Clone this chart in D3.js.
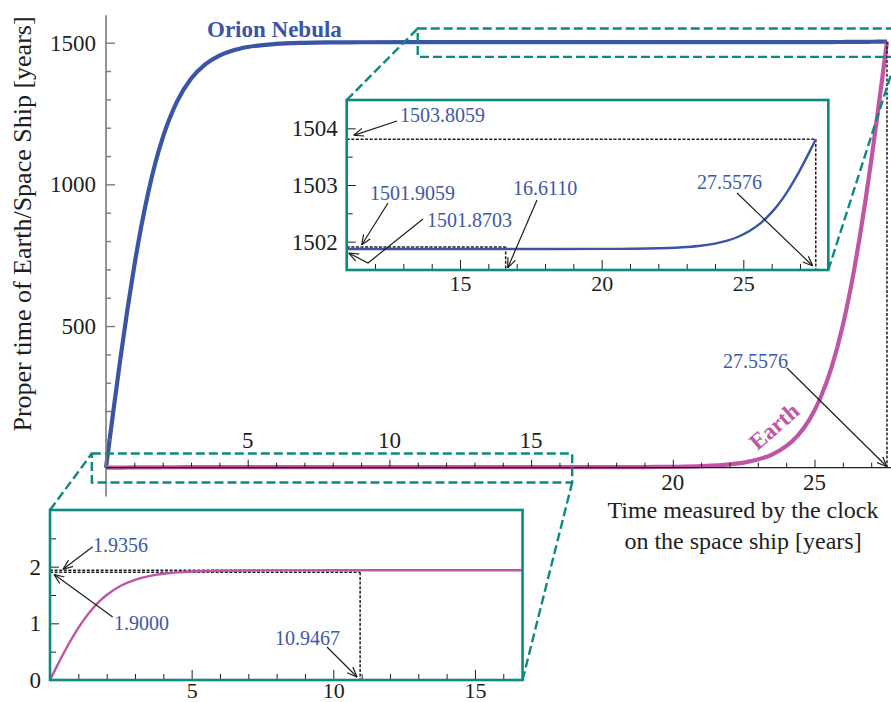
<!DOCTYPE html>
<html>
<head>
<meta charset="utf-8">
<script src="https://cdn.jsdelivr.net/npm/d3@7"></script>
<style>
  body { margin: 0; background: #fff; }
  svg { font-family: "Liberation Serif", "Times New Roman", serif; }
</style>
</head>
<body>
<div id="chart"></div>
<script>
// time on the ship clock [years] and the proper times
const earthTau = [0, 0.25, 0.5, 0.75, 1, 1.25, 1.5, 1.75, 2, 2.5, 3, 3.5, 4, 4.5, 5, 6, 7, 8, 9, 10.9467, 13, 16.611,
    18, 19, 20, 21, 22, 22.5, 23, 23.5, 24, 24.4, 24.8, 25.2, 25.6, 26, 26.2, 26.4, 26.6, 26.8, 27, 27.2, 27.4, 27.5576];
const earthYears = [0, 0.2486, 0.4891, 0.7144, 0.9192, 1.101, 1.2576, 1.3904, 1.5003, 1.664, 1.7688, 1.8342, 1.8744, 1.8988, 1.9136, 1.9277, 1.9328, 1.9346, 1.9352, 1.9356, 1.9357, 1.936,
    2.09, 2.37, 3.16, 5.36, 11.6, 18.0, 28.8, 46.4, 76.0, 112.6, 166.4, 244.2, 353.4, 502.9, 594.9, 699.2, 816.1, 944.2, 1082.7, 1229.4, 1381.8, 1503.8059];

const orionTau = [0, 0.25, 0.5, 0.75, 1, 1.25, 1.5, 1.75, 2, 2.5, 3, 3.5, 4, 4.5, 5, 6, 7, 8, 9, 10.9467, 13, 16.611,
    20, 21, 22, 23, 23.5, 24, 24.4, 24.8, 25.2, 25.6, 26, 26.2, 26.4, 26.6, 26.8, 27, 27.2, 27.4, 27.5576];
const orionYears = [0, 192.9, 379.5, 554.3, 713.2, 854.3, 975.8, 1078.8, 1164.1, 1291.1, 1372.4, 1423.2, 1454.4, 1473.3, 1484.8, 1495.8, 1499.7, 1501.1, 1501.6, 1501.8703, 1501.8703, 1501.8703,
    1501.872, 1501.875, 1501.883, 1501.905, 1501.928, 1501.966, 1502.013, 1502.082, 1502.183, 1502.323, 1502.516, 1502.634, 1502.769, 1502.92, 1503.085, 1503.263, 1503.452, 1503.649, 1503.8059];

// marked values
const accelEnd = 10.9467;
const coastEnd = 16.6110;
const arrival = 27.5576;
const earthCoast = 1.9356;
const earthMark = 1.9000;
const orionArrival = 1503.8059;
const orionMark = 1501.9059;
const orionCoast = 1501.8703;

// tick labels
const mainXTicks = [5, 10, 15, 20, 25];
const mainYTicks = [500, 1000, 1500];
const topXTicks = [15, 20, 25];
const topYTicks = [1502, 1503, 1504];
const lowXTicks = [5, 10, 15];
const lowYTicks = [0, 1, 2];

const blue = '#3a54a6';
const pink = '#c055a6';
const teal = '#0d8a80';
const noteBlue = '#3d58ab';
const ink = '#1e1e1e';

const earth = earthTau.map((t, i) => [t, earthYears[i]]);
const orion = orionTau.map((t, i) => [t, orionYears[i]]);

const svg = d3.select('#chart').append('svg')
    .attr('width', 891)
    .attr('height', 702);

const defs = svg.append('defs');
defs.append('marker')
    .attr('id', 'arrow')
    .attr('viewBox', '0 0 10 10')
    .attr('refX', 10)
    .attr('refY', 5)
    .attr('markerWidth', 10)
    .attr('markerHeight', 10)
    .attr('markerUnits', 'userSpaceOnUse')
    .attr('orient', 'auto')
    .append('path')
    .attr('d', 'M0,1 L10,5 L0,9')
    .attr('fill', 'none')
    .attr('stroke', ink)
    .attr('stroke-width', 1.2);

// strip d3's axis defaults so the serif font applies
function plain(g, size) {
    g.attr('font-family', null).attr('font-size', null);
    g.select('.domain').remove();
    g.selectAll('text').attr('font-size', size).attr('fill', ink);
}

// ---------- main chart ----------
const x = d3.scaleLinear().domain([0, 28]).range([106, 106 + 28 * 28.34]);
const y = d3.scaleLinear().domain([0, 1500]).range([467.7, 42.7]);

const line = (sx, sy) => d3.line().x(d => sx(d[0])).y(d => sy(d[1])).curve(d3.curveMonotoneX);

svg.append('path')
    .datum(orion)
    .attr('d', line(x, y))
    .attr('fill', 'none')
    .attr('stroke', blue)
    .attr('stroke-width', 4.2);

svg.append('path')
    .datum(earth)
    .attr('d', line(x, y))
    .attr('fill', 'none')
    .attr('stroke', pink)
    .attr('stroke-width', 4.2);

// y axis
svg.append('line')
    .attr('x1', x(0)).attr('x2', x(0))
    .attr('y1', y(-102)).attr('y2', y(1597))
    .attr('stroke', '#7a7a7a')
    .attr('stroke-width', 1.6);

const yMinor = d3.range(100, 1600, 100).filter(v => !mainYTicks.includes(v));
svg.append('g')
    .attr('transform', `translate(${x(0)},0)`)
    .call(d3.axisLeft(y).tickValues(yMinor).tickSize(-5).tickFormat(''))
    .call(g => plain(g, 22))
    .call(g => g.selectAll('line').attr('stroke', '#7a7a7a').attr('stroke-width', 1.4));
svg.append('g')
    .attr('transform', `translate(${x(0)},0)`)
    .call(d3.axisLeft(y).tickValues(mainYTicks).tickSize(-9).tickPadding(10).tickFormat(d3.format('d')))
    .call(g => plain(g, 23))
    .call(g => g.selectAll('line').attr('stroke', '#7a7a7a').attr('stroke-width', 1.4));

// x axis
svg.append('line')
    .attr('x1', x(0)).attr('x2', x(27.7))
    .attr('y1', y(0)).attr('y2', y(0))
    .attr('stroke', ink)
    .attr('stroke-width', 1.2);

svg.append('g')
    .attr('transform', `translate(0,${y(0)})`)
    .call(d3.axisBottom(x).tickValues(d3.range(1, 28).filter(v => v % 5)).tickSize(-5).tickFormat(''))
    .call(g => plain(g, 22))
    .call(g => g.selectAll('line').attr('stroke', ink));
svg.append('g')
    .attr('transform', `translate(0,${y(0)})`)
    .call(d3.axisBottom(x).tickValues(mainXTicks).tickSize(-8).tickFormat(''))
    .call(g => plain(g, 22))
    .call(g => g.selectAll('line').attr('stroke', ink));

svg.append('g')
    .selectAll('text')
    .data(mainXTicks)
    .join('text')
    .attr('x', d => x(d))
    .attr('y', d => d < 17 ? 448 : 490)
    .attr('text-anchor', 'middle')
    .attr('font-size', 23)
    .attr('fill', ink)
    .text(d => d);

// axis titles
svg.append('text')
    .attr('transform', 'translate(31,224) rotate(-90)')
    .attr('text-anchor', 'middle')
    .attr('font-size', 26)
    .attr('fill', ink)
    .text('Proper time of Earth/Space Ship [years]');

const xTitle = svg.append('text')
    .attr('text-anchor', 'middle')
    .attr('font-size', 24)
    .attr('fill', ink);
xTitle.append('tspan').attr('x', 743).attr('y', 518).text('Time measured by the clock');
xTitle.append('tspan').attr('x', 743).attr('y', 549).text('on the space ship [years]');

// series names
svg.append('text')
    .attr('x', 207).attr('y', 37)
    .attr('font-size', 23)
    .attr('font-weight', 'bold')
    .attr('fill', blue)
    .text('Orion Nebula');

svg.append('text')
    .attr('transform', 'translate(774,426) rotate(-41)')
    .attr('text-anchor', 'middle')
    .attr('dy', '0.35em')
    .attr('font-size', 23)
    .attr('font-weight', 'bold')
    .attr('fill', pink)
    .text('Earth');

// dotted guide line
function dotted(g, x1, y1, x2, y2) {
    g.append('line')
        .attr('x1', x1).attr('y1', y1)
        .attr('x2', x2).attr('y2', y2)
        .attr('stroke', ink)
        .attr('stroke-width', 1.5)
        .attr('stroke-dasharray', '3,1.6');
}
dotted(svg, x(arrival), y(orionArrival), x(arrival), y(0));

// zoom frames and connectors
function tealDash(x1, y1, x2, y2) {
    svg.append('line')
        .attr('x1', x1).attr('y1', y1)
        .attr('x2', x2).attr('y2', y2)
        .attr('stroke', teal)
        .attr('stroke-width', 2.4)
        .attr('stroke-dasharray', '9,4');
}
function tealFrame(x0, y0, x1, y1) {
    svg.append('rect')
        .attr('x', x0).attr('y', y0)
        .attr('width', x1 - x0).attr('height', y1 - y0)
        .attr('fill', 'none')
        .attr('stroke', teal)
        .attr('stroke-width', 2.4)
        .attr('stroke-dasharray', '9,4');
}

tealFrame(x(11), y(1550), x(27.9), y(1450));
tealFrame(x(-0.5), y(50), x(16.45), y(-52));

// inset scales
const tx = d3.scaleLinear().domain([11, 28]).range([346.7, 346.7 + 17 * 28.33]);
const ty = d3.scaleLinear().domain([1501.5, 1504.5]).range([270, 100]);
const lx = d3.scaleLinear().domain([0, 16.68]).range([50, 50 + 16.68 * 28.33]);
const ly = d3.scaleLinear().domain([0, 3]).range([680, 510]);

tealDash(tx.range()[0], ty.range()[1], x(11), y(1550));
tealDash(tx.range()[1], ty.range()[0], x(27.9), y(1450));
tealDash(lx.range()[0], ly.range()[1], x(-0.5), y(50));
tealDash(lx.range()[1], ly.range()[0], x(16.45), y(-52));

function inset(sx, sy, clipId) {
    const [x0, x1] = sx.range();
    const [y1, y0] = sy.range();
    const g = svg.append('g');
    g.append('rect')
        .attr('x', x0).attr('y', y0)
        .attr('width', x1 - x0).attr('height', y1 - y0)
        .attr('fill', '#fff');
    defs.append('clipPath').attr('id', clipId)
        .append('rect')
        .attr('x', x0).attr('y', y0)
        .attr('width', x1 - x0).attr('height', y1 - y0);
    return g;
}

function insetTicks(g, sx, sy, xMajor, yMajor, yStep, xPad) {
    const [x0] = sx.range();
    const [y1] = sy.range();
    const d = sx.domain();
    const xs = d3.range(Math.ceil(d[0] + 0.01), d[1], 1);
    g.append('g')
        .attr('transform', `translate(0,${y1})`)
        .call(d3.axisBottom(sx).tickValues(xs.filter(v => !xMajor.includes(v))).tickSize(-6).tickFormat(''))
        .call(a => plain(a, 22))
        .call(a => a.selectAll('line').attr('stroke', ink));
    g.append('g')
        .attr('transform', `translate(0,${y1})`)
        .call(d3.axisBottom(sx).tickValues(xMajor).tickSize(-10).tickPadding(xPad).tickFormat(d3.format('d')))
        .call(a => plain(a, 22))
        .call(a => a.selectAll('line').attr('stroke', ink));
    const dy = sy.domain();
    const ys = d3.range(dy[0] + yStep, dy[1], yStep).filter(v => !yMajor.some(m => Math.abs(m - v) < 1e-6));
    g.append('g')
        .attr('transform', `translate(${x0},0)`)
        .call(d3.axisLeft(sy).tickValues(ys).tickSize(-6).tickFormat(''))
        .call(a => plain(a, 22))
        .call(a => a.selectAll('line').attr('stroke', ink));
    g.append('g')
        .attr('transform', `translate(${x0},0)`)
        .call(d3.axisLeft(sy).tickValues(yMajor).tickSize(-9).tickPadding(9).tickFormat(d3.format('d')))
        .call(a => plain(a, 23))
        .call(a => a.selectAll('line').attr('stroke', ink));
}

function frame(g, sx, sy) {
    const [x0, x1] = sx.range();
    const [y1, y0] = sy.range();
    g.append('rect')
        .attr('x', x0).attr('y', y0)
        .attr('width', x1 - x0).attr('height', y1 - y0)
        .attr('fill', 'none')
        .attr('stroke', teal)
        .attr('stroke-width', 2.6);
}

// upper inset: Orion Nebula near arrival
const upper = inset(tx, ty, 'clip-top');
dotted(upper, tx(11), ty(orionArrival), tx(arrival), ty(orionArrival));
dotted(upper, tx(arrival), ty(orionArrival), tx(arrival), ty(1501.5));
dotted(upper, tx(11), ty(orionMark), tx(coastEnd), ty(orionMark));
dotted(upper, tx(coastEnd), ty(orionMark), tx(coastEnd), ty(1501.5));
upper.append('path')
    .datum(orion.filter(d => d[0] >= accelEnd))
    .attr('d', line(tx, ty))
    .attr('clip-path', 'url(#clip-top)')
    .attr('fill', 'none')
    .attr('stroke', blue)
    .attr('stroke-width', 2.4);
insetTicks(upper, tx, ty, topXTicks, topYTicks, 0.5, 5);
frame(upper, tx, ty);

// lower inset: Earth at departure
const lower = inset(lx, ly, 'clip-low');
dotted(lower, lx(0), ly(earthCoast), lx(16.68), ly(earthCoast));
dotted(lower, lx(0), ly(earthMark), lx(accelEnd), ly(earthMark));
dotted(lower, lx(accelEnd), ly(earthMark), lx(accelEnd), ly(0));
lower.append('path')
    .datum(earth.filter(d => d[0] <= 18))
    .attr('d', line(lx, ly))
    .attr('clip-path', 'url(#clip-low)')
    .attr('fill', 'none')
    .attr('stroke', pink)
    .attr('stroke-width', 2.4);
insetTicks(lower, lx, ly, lowXTicks, lowYTicks, 0.5, 2);
frame(lower, lx, ly);

// ---------- value notes ----------
function note(label, tx0, ty0, points) {
    svg.append('text')
        .attr('x', tx0).attr('y', ty0)
        .attr('font-size', 20)
        .attr('fill', noteBlue)
        .text(label);
    svg.append('path')
        .attr('d', d3.line()(points))
        .attr('fill', 'none')
        .attr('stroke', ink)
        .attr('stroke-width', 1.2)
        .attr('marker-end', 'url(#arrow)');
}

note(arrival.toFixed(4), 723, 368, [[787, 368], [x(arrival), y(0) - 1]]);

note(orionArrival.toFixed(4), 400, 122, [[397, 121], [tx(11) + 7, ty(orionArrival) - 4]]);
note(orionMark.toFixed(4), 370, 200, [[388, 203], [tx(11) + 15, ty(orionMark) - 2]]);
note(orionCoast.toFixed(4), 427, 227, [[423, 219], [368, 263], [tx(11) + 2, ty(orionCoast) + 4]]);
note(coastEnd.toFixed(4), 513, 195, [[537, 200], [tx(coastEnd) + 2, ty(1501.5) - 2]]);
note(arrival.toFixed(4), 697, 189, [[737, 193], [tx(arrival) - 3, ty(1501.5) - 4]]);

note(earthCoast.toFixed(4), 93, 552, [[92.7, 546.7], [lx(0) + 13, ly(earthCoast) - 1]]);
note(earthMark.toFixed(4), 114, 630, [[112.7, 617], [lx(0) + 4, ly(earthMark) + 2]]);
note(accelEnd.toFixed(4), 275, 645, [[327, 647], [lx(accelEnd) - 3, ly(0) - 3]]);
</script>
</body>
</html>
